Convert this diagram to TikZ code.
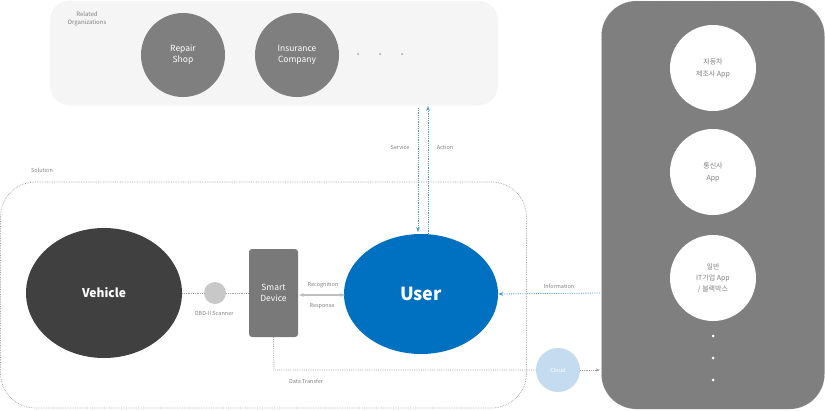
\documentclass[tikz,border=0pt]{standalone}
\usepackage{fontspec}
\setmainfont{Noto Sans CJK KR}
\usetikzlibrary{arrows.meta,shapes.geometric}
\definecolor{panelgray}{HTML}{7F7F7F}
\definecolor{toppanel}{HTML}{F5F5F5}
\definecolor{orggray}{HTML}{7F7F7F}
\definecolor{vehgray}{HTML}{404040}
\definecolor{userblue}{HTML}{0070C0}
\definecolor{cloudblue}{HTML}{C5DCF0}
\definecolor{lblgray}{HTML}{808080}
\definecolor{lineg}{HTML}{A0A0A0}
\definecolor{obdgray}{HTML}{C8C8C8}
\tikzset{
  orgcircle/.style={circle, fill=orggray, minimum size=84pt, inner sep=0pt, text=white, align=center, font=\fontsize{8.5}{11}\selectfont},
  appcircle/.style={circle, fill=white, minimum size=86pt, inner sep=0pt, text=lblgray, align=center, font=\fontsize{7}{12}\selectfont},
  smalllbl/.style={text=lblgray, font=\fontsize{5.5}{7}\selectfont, inner sep=1pt},
  dotline/.style={draw=lineg, densely dotted, line width=0.8pt},
  whitedot/.style={circle, fill=white, minimum size=3pt, inner sep=0pt},
  graydot/.style={circle, fill=lineg, minimum size=2pt, inner sep=0pt},
}
\begin{document}
\begin{tikzpicture}[x=1pt,y=-1pt]
\useasboundingbox (0,0) rectangle (825,410);
% top panel
\node[fill=toppanel, rounded corners=20pt, minimum width=448pt, minimum height=105pt, inner sep=0pt] (top) at (274,53) {};
\node[smalllbl, align=center, font=\fontsize{6}{8}\selectfont] (relorg) at (87,19) {Related\\Organizations};
\node[orgcircle] (repair) at (183,55) {Repair\\Shop};
\node[orgcircle] (ins) at (297,55) {Insurance\\Company};
\node[graydot] (d1) at (358,54) {};
\node[graydot] (d2) at (380,54) {};
\node[graydot] (d3) at (402,54) {};
% right panel
\node[fill=panelgray, draw=lineg, densely dotted, rounded corners=35pt, minimum width=223pt, minimum height=408pt, inner sep=0pt] (right) at (713,205) {};
\node[appcircle] (app1) at (713,68) {자동차\\제조사 App};
\node[appcircle] (app2) at (713,172) {통신사\\App};
\node[appcircle, font=\fontsize{7}{11}\selectfont] (app3) at (713,278) {일반\\IT기업 App\\/ 블랙박스};
\node[whitedot] (v1) at (713,336) {};
\node[whitedot] (v2) at (713,358) {};
\node[whitedot] (v3) at (713,380) {};
% solution frame
\node[draw=lineg, densely dotted, line width=0.7pt, rounded corners=35pt, minimum width=526pt, minimum height=226pt, inner sep=0pt] (sol) at (263.5,295) {};
\node[smalllbl] (sollbl) at (42,170) {Solution};
% vehicle
\node[ellipse, fill=vehgray, minimum width=156pt, minimum height=130pt, inner sep=0pt, text=white, font=\fontsize{12}{14}\selectfont\bfseries] (veh) at (104,293) {Vehicle};
\node[circle, fill=obdgray, minimum size=22pt, inner sep=0pt] (obd) at (215,293) {};
\node[smalllbl] (obdlbl) at (214,313) {OBD-II Scanner};
\node[fill=panelgray!95!black, rounded corners=3pt, minimum width=49pt, minimum height=88pt, inner sep=0pt, text=white, align=center, font=\fontsize{8.5}{11}\selectfont] (sd) at (273.5,293) {Smart\\Device};
% user
\node[ellipse, fill=userblue, minimum width=154pt, minimum height=120pt, inner sep=0pt, text=white, font=\fontsize{18}{20}\selectfont\bfseries] (user) at (421,294) {User};
% connectors vehicle - obd - smart device
\draw[dotline] (veh.east) -- (obd.west);
\draw[dotline] (obd.east) -- (sd.west);
% recognition / response
\coordinate (rA) at (299,295);
\coordinate (rB) at (345,295);
\draw[draw=lightgray, line width=1.2pt, {Stealth[length=5pt]}-{Stealth[length=5pt]}] (rA) -- (rB);
\node[smalllbl] (recog) at (323,285) {Recognition};
\node[smalllbl] (resp) at (322,306) {Response};
% service / action
\coordinate (svTop) at (418,108);
\coordinate (svBot) at (418,232);
\coordinate (acTop) at (428,106);
\coordinate (acBot) at (428,234);
\draw[dotline, draw=userblue!70, -{Stealth[length=5pt]}] (svTop) -- (svBot);
\draw[dotline, draw=userblue!70, -{Stealth[length=5pt]}] (acBot) -- (acTop);
\node[smalllbl] (svlbl) at (400,147) {Service};
\node[smalllbl] (aclbl) at (445,147) {Action};
% information
\coordinate (infoR) at (600,293);
\draw[dotline, draw=userblue!70, -{Stealth[length=5pt]}] (infoR) -- (user.east);
\node[smalllbl] (infolbl) at (559,286) {Information};
% data transfer
\node[circle, fill=cloudblue, minimum size=44pt, inner sep=0pt, text=white, font=\fontsize{5.5}{7}\selectfont] (cloud) at (558,370) {Cloud};
\coordinate (dtCorner) at (274,370);
\coordinate (dtEnd) at (600,370);
\draw[dotline] (sd.south) -- (dtCorner) -- (cloud.west);
\draw[dotline, -{Stealth[length=4pt]}] (cloud.east) -- (dtEnd);
\node[smalllbl] (dtlbl) at (306,381) {Data Transfer};
\end{tikzpicture}
\end{document}
